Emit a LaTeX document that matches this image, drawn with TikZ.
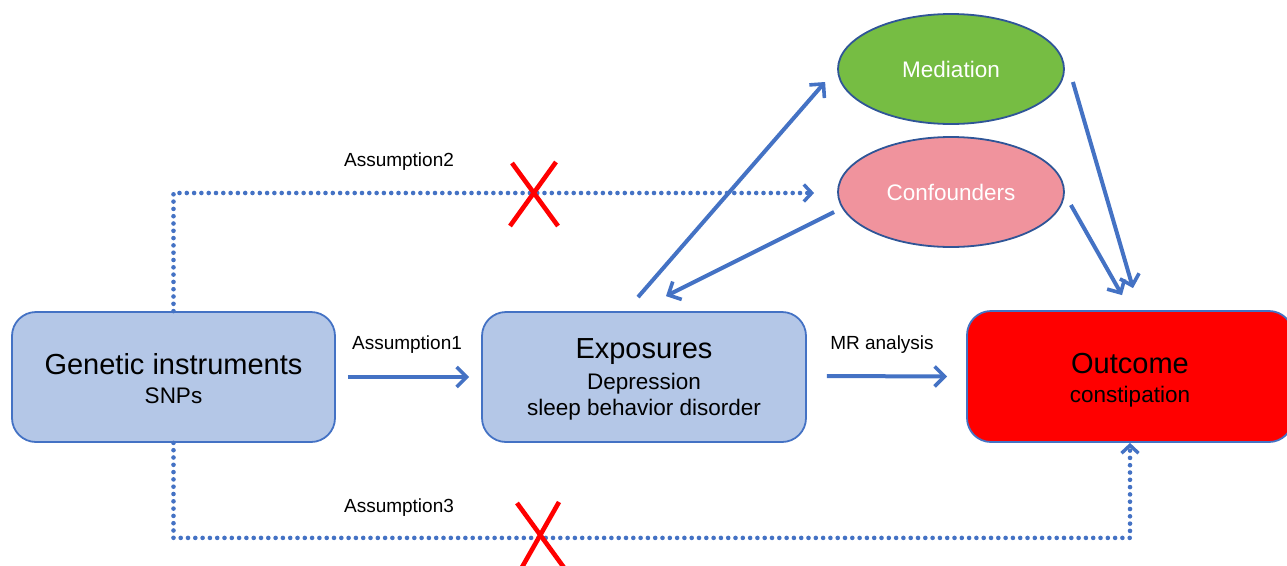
\documentclass[tikz,border=0pt]{standalone}
\usepackage{fontspec}
\setmainfont{Liberation Sans}
\usetikzlibrary{arrows.meta,calc,shapes.geometric}
\definecolor{boxfill}{HTML}{B4C7E7}
\definecolor{boxline}{HTML}{4472C4}
\definecolor{arrblue}{HTML}{4472C4}
\definecolor{ellline}{HTML}{2F5597}
\definecolor{medfill}{HTML}{76BD43}
\definecolor{conffill}{HTML}{F0939D}
\definecolor{outfill}{HTML}{FF0000}
\tikzset{
  rbox/.style={draw=boxline, line width=1.8pt, rounded corners=24pt, minimum width=323pt, minimum height=130pt, inner sep=0pt},
  ell/.style={ellipse, draw=ellline, line width=1.8pt, minimum width=226pt, minimum height=110pt, inner sep=0pt, text=white, font=\fontsize{22.5}{27}\selectfont},
  arr/.style={draw=arrblue, line width=4pt, -{Straight Barb[length=10pt,width=20pt,line width=3.6pt]}},
  dotarr/.style={draw=arrblue, line width=4.6pt, line cap=round, dash pattern=on 0pt off 7.3pt, -{Straight Barb[length=8pt,width=17pt,line width=3.4pt]}},
  bigtxt/.style={font=\fontsize{29}{33}\selectfont, inner sep=0pt},
  midtxt/.style={font=\fontsize{22.5}{27}\selectfont, inner sep=0pt},
  lbl/.style={font=\fontsize{19}{22}\selectfont, inner sep=0pt},
  cross/.style={draw=red, line width=4.6pt}
}
\begin{document}
\begin{tikzpicture}[x=1pt,y=-1pt]
\useasboundingbox (0,0) rectangle (1287,565);
\begin{scope}
\clip (0,0) rectangle (1287,565);
% boxes
\node[rbox, fill=boxfill] (gen) at (173.5,377) {};
\node[rbox, fill=boxfill, minimum width=324pt] (exp) at (644,377) {};
\node[rbox, fill=outfill, minimum width=326pt, minimum height=131pt] (out) at (1130,376.5) {};
\node[ell, fill=medfill] (med) at (951,69) {Mediation};
\node[ell, fill=conffill] (conf) at (951,192) {Confounders};
% box texts
\node[bigtxt] (gent) at (173.5,364) {Genetic instruments};
\node[midtxt] (gens) at (173.5,396) {SNPs};
\node[bigtxt] (expt) at (644,352) {Exposures};
\node[midtxt] (expd) at (644,384) {Depression};
\node[midtxt] (exps) at (644,410) {sleep behavior disorder};
\node[bigtxt] (outt) at (1130,364) {Outcome};
\node[midtxt] (outc) at (1130,397) {constipation};
% labels
\node[lbl] (l1) at (407,345) {Assumption1};
\node[lbl] (l4) at (882,345) {MR analysis};
\node[lbl] (l2) at (399,162) {Assumption2};
\node[lbl] (l3) at (399,508) {Assumption3};
% solid arrows
\draw[arr] ($(gen.east)+(12,0)$) -- ($(exp.west)+(-12,0)$);
\draw[arr] ($(exp.east)+(20,-1)$) -- ($(out.west)+(-19,0)$);
\draw[arr] ($(exp.north)+(-6,-14)$) -- ($(med.west)+(-12,13)$);
\draw[arr] ($(conf.west)+(-3,20)$) -- ($(exp.north)+(22,-15)$);
\draw[arr] ($(med.east)+(8,13)$) -- ($(out.north)+(3,-22)$);
\draw[arr] ($(conf.east)+(6,13)$) -- ($(out.north)+(-8,-15)$);
% dotted arrows
\draw[dotarr] (gen.north) |- ($(conf.west)+(-23,1)$);
\draw[dotarr] (gen.south) -- ++(0,95) -| (out.south);
% crosses
\coordinate (x2) at (534,194);
\draw[cross] ($(x2)+(-22,-31)$) -- ($(x2)+(24,32)$);
\draw[cross] ($(x2)+(22,-32)$) -- ($(x2)+(-24,32)$);
\coordinate (x3) at (539,535);
\draw[cross] ($(x3)+(-22,-32)$) -- ($(x3)+(26,34)$);
\draw[cross] ($(x3)+(20,-33)$) -- ($(x3)+(-18,34)$);
\end{scope}
\end{tikzpicture}
\end{document}
